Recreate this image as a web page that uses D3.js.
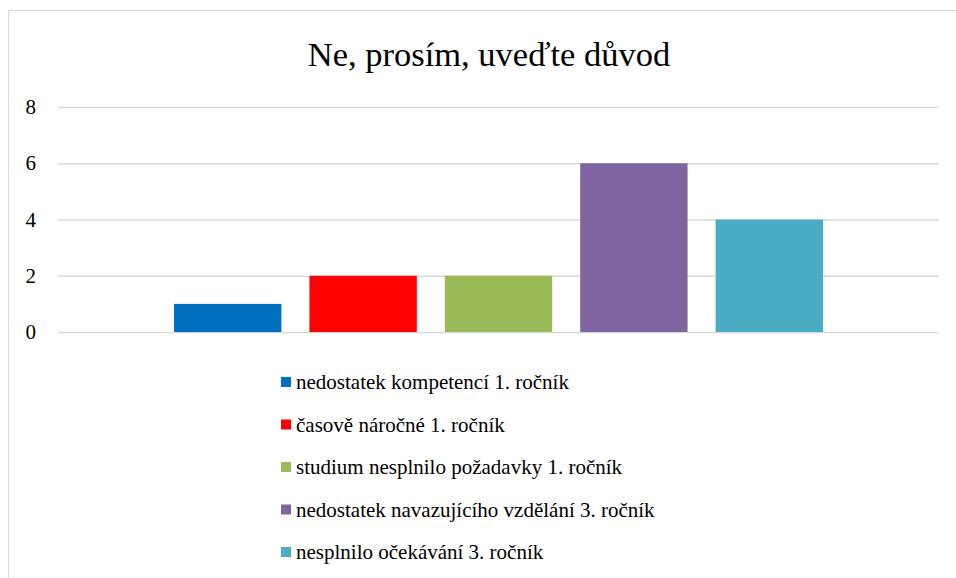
<!DOCTYPE html>
<html>
<head>
<meta charset="utf-8">
<script src="https://cdn.jsdelivr.net/npm/d3@7"></script>
<style>
  body { margin: 0; background: #fff; }
  svg { display: block; }
</style>
</head>
<body>
<div id="chart"></div>
<script>
// data
let title = 'Ne, prosím, uveďte důvod'
let series = [
  'nedostatek kompetencí 1. ročník',
  'časově náročné 1. ročník',
  'studium nesplnilo požadavky 1. ročník',
  'nedostatek navazujícího vzdělání 3. ročník',
  'nesplnilo očekávání 3. ročník'
]
let values = [1, 2, 2, 6, 4]
let colors = ['#0070c0', '#ff0000', '#9bbb59', '#8064a2', '#4bacc6']
let yTicks = [0, 2, 4, 6, 8]

let w = 956, h = 578
let font = "'Liberation Serif', 'Times New Roman', serif"

let svg = d3.select('#chart').append('svg')
  .attr('width', w)
  .attr('height', h)

// rámeček grafu
svg.append('rect')
  .attr('x', 8.5).attr('y', 10.5)
  .attr('width', 960).attr('height', 580)
  .attr('fill', 'none')
  .attr('stroke', '#d9d9d9')
  .attr('stroke-width', 1)

svg.append('text')
  .attr('x', 489).attr('y', 66)
  .attr('text-anchor', 'middle')
  .style('font-family', font)
  .style('font-size', '34.5px')
  .attr('fill', '#000')
  .text(title)

let plot = {left: 58, right: 939, top: 107, bottom: 332}

let yScale = d3.scaleLinear()
  .domain([0, 8])
  .range([plot.bottom, plot.top])

let xScale = d3.scaleBand()
  .domain(series)
  .range([plot.left, plot.right])
  .paddingInner(0.207)
  .paddingOuter(0.857)

// mřížka
let yAxis = d3.axisLeft(yScale)
  .tickValues(yTicks)
  .tickSize(-(plot.right - plot.left))
  .tickPadding(22)
  .tickFormat(d3.format('d'))

let gy = svg.append('g')
  .attr('transform', `translate(${plot.left}, 0)`)
  .call(yAxis)
gy.select('.domain').remove()
gy.selectAll('line')
  .attr('stroke', '#d9d9d9')
  .attr('stroke-width', 1.5)
gy.selectAll('text')
  .style('font-family', font)
  .style('font-size', '21px')
  .attr('fill', '#000')

svg.selectAll('rect.bar')
  .data(values)
  .enter()
  .append('rect')
  .attr('class', 'bar')
  .attr('x', (d, i) => xScale(series[i]))
  .attr('y', d => yScale(d))
  .attr('width', xScale.bandwidth())
  .attr('height', d => yScale(0) - yScale(d))
  .attr('fill', (d, i) => colors[i])

// legenda
let legendY = d3.scalePoint()
  .domain(series)
  .range([384, 554])

let legend = svg.selectAll('g.legend')
  .data(series)
  .enter()
  .append('g')
  .attr('class', 'legend')
  .attr('transform', d => `translate(281, ${legendY(d)})`)

legend.append('rect')
  .attr('x', 0).attr('y', -7)
  .attr('width', 10).attr('height', 10)
  .attr('fill', (d, i) => colors[i])

legend.append('text')
  .attr('x', 15).attr('y', 5)
  .style('font-family', font)
  .style('font-size', '21px')
  .attr('fill', '#000')
  .text(d => d)
</script>
</body>
</html>
